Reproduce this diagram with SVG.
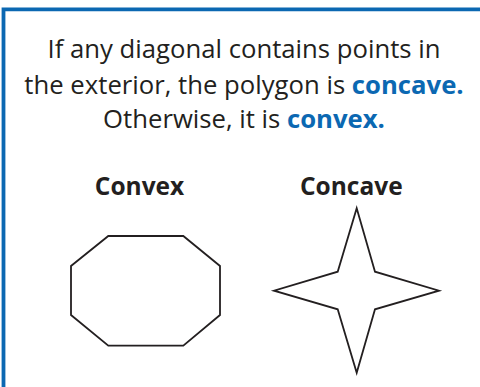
<svg xmlns="http://www.w3.org/2000/svg" width="480" height="387" viewBox="0 0 480 387">
<style>
.t{font-family:"Open Sans","Noto Sans","Liberation Sans",sans-serif;font-size:25.7px;fill:#231f20;text-anchor:middle}
.b{font-weight:bold;fill:#0b68b2}
.h{font-family:"Open Sans","Noto Sans","Liberation Sans",sans-serif;font-size:24.5px;font-weight:bold;fill:#231f20;text-anchor:middle}
.shape{fill:none;stroke:#231f20;stroke-width:1.8;stroke-linejoin:miter}
</style>
<rect width="480" height="387" fill="#fff"/>
<path d="M3.5,387 V9.3 H480" fill="none" stroke="#0b68b2" stroke-width="3.8"/>
<g id="text">
<text class="t" x="244" y="58">If any diagonal contains points in</text>
<text class="t" x="244" y="94">the exterior, the polygon is <tspan class="b">concave.</tspan></text>
<text class="t" x="244" y="128">Otherwise, it is <tspan class="b">convex.</tspan></text>
</g>
<g id="convex">
<text class="h" x="139.5" y="195">Convex</text>
<polygon class="shape" points="108.3,236 183.3,236 220,266 220,315 183.3,345.7 108.3,345.7 71,315 71,266"/>
</g>
<g id="concave">
<text class="h" x="351.3" y="195">Concave</text>
<polygon class="shape" points="356.7,208.3 375,271.7 439,290.7 375,309.3 356.7,372.7 337.7,309.3 274,290.7 337.7,271.7"/>
</g>
</svg>
